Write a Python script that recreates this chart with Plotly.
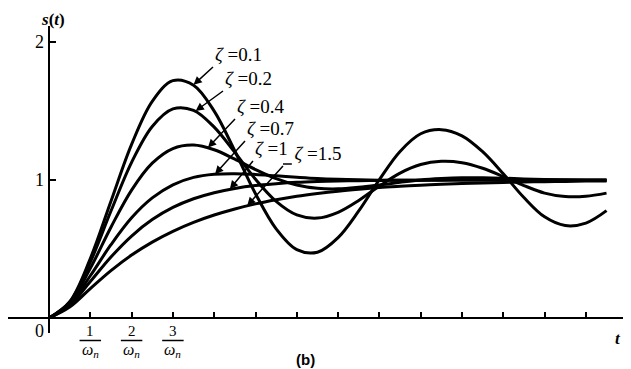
import plotly.graph_objects as go

# ---- data ----
t_vals = [0, 0.5, 1, 1.5, 2, 2.5, 3, 3.5, 4, 4.5, 5, 5.5, 6, 6.5, 7, 7.5, 8, 8.5,
          9, 9.5, 10, 10.5, 11, 11.5, 12, 12.5, 13, 13.5]
s_zeta_01 = [0, 0.118, 0.431, 0.846, 1.258, 1.570, 1.720, 1.687, 1.499, 1.210, 0.901, 0.646,
             0.495, 0.477, 0.583, 0.776, 1.003, 1.207, 1.335, 1.365, 1.320, 1.205, 1.045,
             0.873, 0.733, 0.670, 0.688, 0.778]
s_zeta_02 = [0, 0.115, 0.405, 0.775, 1.128, 1.388, 1.515, 1.505, 1.383, 1.200, 1.005, 0.845,
             0.747, 0.724, 0.766, 0.852, 0.956, 1.050, 1.112, 1.135, 1.125, 1.085, 1.025,
             0.960, 0.905, 0.880, 0.882, 0.905]
s_zeta_04 = [0, 0.108, 0.360, 0.658, 0.927, 1.122, 1.228, 1.253, 1.219, 1.151, 1.076, 1.010,
             0.964, 0.940, 0.936, 0.947, 0.964, 0.983, 1.000, 1.010, 1.016, 1.016, 1.013,
             1.008, 1.004, 1.000, 0.997, 0.996]
s_zeta_07 = [0, 0.098, 0.306, 0.531, 0.726, 0.870, 0.965, 1.019, 1.042, 1.046, 1.040, 1.030,
             1.020, 1.011, 1.005, 1.001, 0.999, 0.999, 0.999, 1.000, 1.000, 1.000, 1.000,
             1.000, 1.000, 1.000, 1.000, 1.000]
s_zeta_10 = [0, 0.090, 0.264, 0.442, 0.594, 0.713, 0.801, 0.864, 0.908, 0.939, 0.960, 0.973,
             0.983, 0.989, 0.993, 0.995, 0.997, 0.998, 0.999, 0.999, 1.000, 1.000, 1.000,
             1.000, 1.000, 1.000, 1.000, 1.000]
s_zeta_15 = [0, 0.079, 0.213, 0.343, 0.456, 0.550, 0.628, 0.693, 0.746, 0.790, 0.827, 0.857,
             0.882, 0.902, 0.919, 0.933, 0.945, 0.954, 0.962, 0.969, 0.974, 0.979, 0.982,
             0.986, 0.988, 0.990, 0.992, 0.993]

zeta_labels = ["0.1", "0.2", "0.4", "0.7", "1", "1.5"]
y_tick_vals = [1, 2]
y_tick_text = ["1", "2"]
x_tick_vals = list(range(1, 14))
x_frac_vals = [1, 2, 3]
x_frac_nums = ["1", "2", "3"]

# ---- layout constants (page has an 8px body margin) ----
XMIN, XMAX = -0.993, 14.02
YMIN, YMAX = -0.1087, 2.116
W, H = 623, 361
ML, MR, MT, MB = 0, 3, 18, 36


def px(t):
    return (t - XMIN) / (XMAX - XMIN)


def py(s):
    return (s - YMIN) / (YMAX - YMIN)


SERIF = "Liberation Serif"

fig = go.Figure()
for ys in [s_zeta_01, s_zeta_02, s_zeta_04, s_zeta_07, s_zeta_10, s_zeta_15]:
    fig.add_trace(go.Scatter(x=t_vals, y=ys, mode="lines",
                             line=dict(color="black", width=3, shape="spline"),
                             showlegend=False, hoverinfo="skip"))

annotations = []


def text_at(t, s, txt, size, family=SERIF):
    annotations.append(dict(x=px(t), y=py(s), xref="paper", yref="paper", text=txt,
                            xanchor="center", yanchor="middle", borderpad=0,
                            showarrow=False, font=dict(family=family, size=size, color="black")))


# zeta labels: text box anchored (left, bottom) at the arrow tail
arrow_tail = [(3.971, 1.819), (4.213, 1.645), (4.504, 1.442), (4.746, 1.283), (4.939, 1.138), (5.666, 1.101)]
arrow_head = [(3.50, 1.69), (3.55, 1.50), (3.85, 1.235), (4.02, 1.042), (4.38, 0.935), (4.80, 0.815)]
prefix = ["", "", "", "", "", "&nbsp;&nbsp;"]
for lab, pre, (tx, ty), (hx, hy) in zip(zeta_labels, prefix, arrow_tail, arrow_head):
    annotations.append(dict(x=hx, y=hy, xref="x", yref="y", ax=tx, ay=ty, axref="x", ayref="y",
                            text=pre + "<i>ζ</i> =" + lab, xanchor="left", yanchor="bottom",
                            showarrow=True, arrowhead=2, arrowsize=1.1,
                            arrowwidth=1.5, arrowcolor="black",
                            font=dict(family=SERIF, size=19, color="black")))

# y tick labels
for v, lab in zip(y_tick_vals, y_tick_text):
    text_at(-0.24, v, lab, 18)

# fraction tick labels
for v, num in zip(x_frac_vals, x_frac_nums):
    text_at(v, -0.094, num, 15)
    text_at(v, -0.232, "<i>ω<sub>n</sub></i>", 16)

text_at(-0.24, -0.094, "0", 18)
text_at(0.10, 2.16, "<b><i>s</i>(<i>t</i>)</b>", 17)
text_at(13.78, -0.145, "<b><i>t</i></b>", 17)
text_at(6.2, -0.304, "<b>(b)</b>", 15, "Liberation Sans")

shapes = []
for v in x_frac_vals:
    shapes.append(dict(type="line", xref="paper", yref="paper",
                       x0=px(v - 0.26), x1=px(v + 0.26), y0=py(-0.163), y1=py(-0.163),
                       line=dict(color="black", width=1.5)))
# leader dash for zeta = 1.5
shapes.append(dict(type="line", xref="x", yref="y", x0=5.666, y0=1.116, x1=5.88, y1=1.116,
                   line=dict(color="black", width=1.5)))

fig.update_layout(
    width=W, height=H, margin=dict(l=ML, r=MR, t=MT, b=MB),
    plot_bgcolor="white", paper_bgcolor="white",
    xaxis=dict(range=[XMIN, XMAX], anchor="free", position=py(0), showline=True,
               linecolor="black", linewidth=2, ticks="inside", tickvals=x_tick_vals,
               ticklen=5, tickwidth=2, tickcolor="black", showticklabels=False,
               showgrid=False, zeroline=False),
    yaxis=dict(range=[YMIN, YMAX], anchor="free", position=px(0), showline=True,
               linecolor="black", linewidth=2, ticks="inside", tickvals=y_tick_vals,
               ticklen=6, tickwidth=2, tickcolor="black", showticklabels=False,
               showgrid=False, zeroline=False),
    annotations=annotations, shapes=shapes, showlegend=False,
)

fig.write_html("out.html")
